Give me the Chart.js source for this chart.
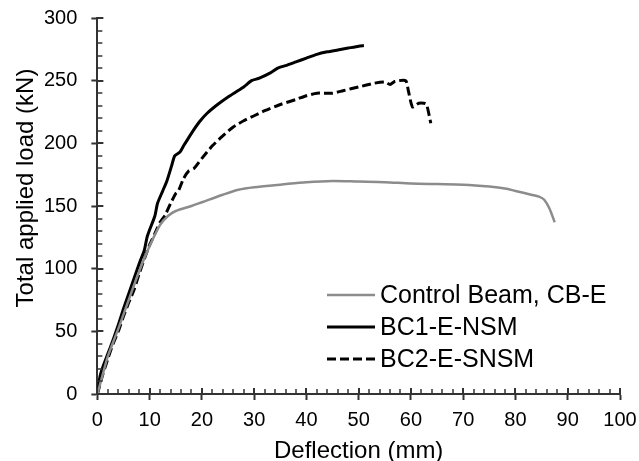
<!DOCTYPE html>
<html>
<head>
<meta charset="utf-8">
<script src="https://cdn.jsdelivr.net/npm/chart.js@4/dist/chart.umd.min.js"></script>
<style>
  body { margin: 0; background: #fff; }
  canvas { display: block; }
</style>
</head>
<body>
<canvas id="chart" width="639" height="461"></canvas>
<script>
// series: [deflection (mm), total load (kN)]
const controlBeam = [
  [0, 0], [1, 15], [2, 30], [4, 52], [6, 75], [8, 98], [10, 118], [12, 135],
  [13.5, 142], [15, 146], [18, 150], [20, 153], [24, 159], [27, 163], [30, 165],
  [35, 167], [40, 169], [45, 170], [50, 169.5], [55, 169], [60, 168], [65, 167.5],
  [70, 167], [75, 165.5], [78, 164], [80, 162], [83, 159], [84.5, 157.5],
  [85.5, 155], [86.5, 148], [87.5, 137]
];
const bc1 = [
  [0, 0], [0.5, 14], [1, 21], [2, 32], [3, 43], [4, 55], [5, 68], [6, 80], [7, 92],
  [8, 104], [9, 115], [9.5, 125], [10, 131], [11, 142], [11.5, 152], [12.5, 162],
  [13.3, 170], [14.2, 182], [14.8, 190], [15.8, 193], [16.5, 198], [18, 208],
  [19.5, 217], [21, 224], [23, 231], [25, 237], [26.5, 241], [28, 245], [29.5, 250],
  [31, 252], [33, 256], [34.5, 260], [36, 262], [38, 265], [40, 268], [42, 271],
  [44, 273], [46, 274.5], [48, 276], [50, 277.5], [51, 278]
];
const bc2 = [
  [0, 0], [1, 15], [2, 28], [3, 40], [4, 50], [5, 62], [6, 73], [7, 83], [8, 96],
  [9, 108], [10, 119], [11, 128], [12, 137], [13, 143], [14, 152], [15, 160],
  [15.5, 162], [16.5, 172], [17.5, 178], [18.5, 180], [20, 188], [22, 198],
  [24, 206], [26, 213], [28, 218], [30, 222], [32, 226], [35, 231], [38, 235],
  [40, 238], [42, 240], [45, 240], [47, 242], [50, 245], [53, 248], [55, 249],
  [56, 247], [57, 249.5], [59, 250], [59.5, 242], [60.3, 229], [61.5, 232],
  [62.5, 232], [63, 231], [63.8, 216]
];
const seriesNames = ['Control Beam, CB-E', 'BC1-E-NSM', 'BC2-E-SNSM'];
const xTitle = 'Deflection (mm)';
const yTitle = 'Total applied load (kN)';

const FONT = "'Liberation Sans', Arial, sans-serif";
const AXIS = '#333333';

function toPoints(arr) {
  return arr.map(p => ({ x: p[0], y: p[1] }));
}

// small inward ticks + inner half of major ticks
const axisTicks = {
  id: 'axisTicks',
  afterDraw(chart) {
    const { ctx, chartArea: a, scales: { x, y } } = chart;
    ctx.save();
    ctx.strokeStyle = AXIS;
    for (let v = 0; v <= 100; v += 2) {
      const px = Math.round(x.getPixelForValue(v));
      const major = v % 10 === 0;
      ctx.lineWidth = major ? 2 : 1.5;
      ctx.beginPath();
      ctx.moveTo(px, a.bottom);
      ctx.lineTo(px, a.bottom - (major ? 6 : 5));
      ctx.stroke();
    }
    for (let v = 0; v <= 300; v += 10) {
      const py = Math.round(y.getPixelForValue(v));
      const major = v % 50 === 0;
      ctx.lineWidth = major ? 2 : 1.5;
      ctx.beginPath();
      ctx.moveTo(a.left, py);
      ctx.lineTo(a.left + (major ? 6 : 5), py);
      ctx.stroke();
    }
    ctx.restore();
  }
};

// y title sits a bit above the plot centre in the original
const yAxisTitle = {
  id: 'yAxisTitle',
  afterDraw(chart) {
    const { ctx } = chart;
    ctx.save();
    ctx.translate(26, 188);
    ctx.rotate(-Math.PI / 2);
    ctx.font = '24px ' + FONT;
    ctx.fillStyle = '#000';
    ctx.textAlign = 'center';
    ctx.textBaseline = 'middle';
    ctx.fillText(yTitle, 0, 0);
    ctx.restore();
  }
};

// legend drawn inside the plot area
const innerLegend = {
  id: 'innerLegend',
  afterDraw(chart) {
    const { ctx } = chart;
    const x0 = 327, x1 = 375, tx = 380;
    const rows = [295, 327, 359];
    ctx.save();
    ctx.font = '25px ' + FONT;
    ctx.textBaseline = 'middle';
    chart.data.datasets.forEach((ds, i) => {
      ctx.strokeStyle = ds.borderColor;
      ctx.lineWidth = ds.borderWidth;
      ctx.setLineDash(ds.borderDash || []);
      ctx.beginPath();
      ctx.moveTo(x0, rows[i]);
      ctx.lineTo(x1, rows[i]);
      ctx.stroke();
      ctx.setLineDash([]);
      ctx.fillStyle = '#000';
      ctx.fillText(ds.label, tx, rows[i] + 1);
    });
    ctx.restore();
  }
};

new Chart(document.getElementById('chart').getContext('2d'), {
  type: 'line',
  data: {
    datasets: [
      {
        label: seriesNames[0],
        data: toPoints(controlBeam),
        borderColor: '#8c8c8c',
        borderWidth: 2.5,
        pointRadius: 0,
        tension: 0.3
      },
      {
        label: seriesNames[1],
        data: toPoints(bc1),
        borderColor: '#000000',
        borderWidth: 3,
        pointRadius: 0,
        tension: 0.2
      },
      {
        label: seriesNames[2],
        data: toPoints(bc2),
        borderColor: '#000000',
        borderWidth: 3,
        borderDash: [9, 4],
        pointRadius: 0,
        tension: 0.2
      }
    ]
  },
  options: {
    responsive: false,
    animation: false,
    layout: { padding: { top: 0, right: 0, left: 30, bottom: 0 } },
    plugins: {
      legend: { display: false },
      tooltip: { enabled: false }
    },
    scales: {
      x: {
        type: 'linear',
        min: 0,
        max: 100,
        afterFit: s => { s.paddingRight = 19; },
        ticks: { stepSize: 10, color: '#000', padding: 8, font: { family: FONT, size: 20 } },
        grid: { display: true, drawOnChartArea: false, drawTicks: true, tickLength: 6, tickWidth: 2, tickColor: AXIS },
        border: { display: true, width: 2, color: AXIS },
        title: { display: true, text: xTitle, color: '#000', padding: { top: -3.4, bottom: -4.4 }, font: { family: FONT, size: 24 } }
      },
      y: {
        type: 'linear',
        min: 0,
        max: 300,
        afterFit: s => { s.paddingTop = 18; },
        ticks: { stepSize: 50, color: '#000', padding: 14, font: { family: FONT, size: 20 } },
        grid: { display: true, drawOnChartArea: false, drawTicks: true, tickLength: 6, tickWidth: 2, tickColor: AXIS },
        border: { display: true, width: 2, color: AXIS },
        title: { display: false }
      }
    }
  },
  plugins: [axisTicks, yAxisTitle, innerLegend]
});
</script>
</body>
</html>
